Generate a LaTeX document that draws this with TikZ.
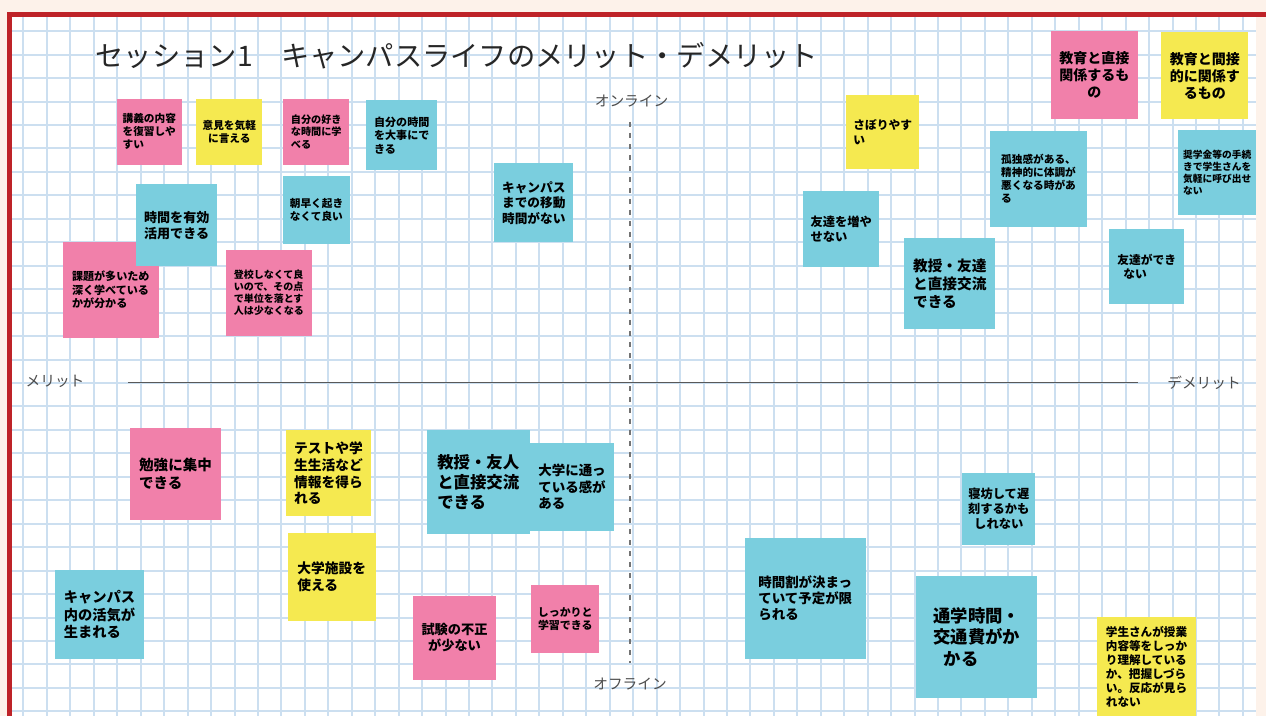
\documentclass[tikz,border=0pt]{standalone}
\usepackage{fontspec}
\newfontfamily\jp{Noto Sans CJK JP}
\definecolor{notepink}{HTML}{F180AA}
\definecolor{noteyellow}{HTML}{F5E950}
\definecolor{notecyan}{HTML}{7ACEDE}
\definecolor{gridblue}{HTML}{CCDFF0}
\definecolor{boardred}{HTML}{BE2328}
\definecolor{paper}{HTML}{FDF2EA}

\begin{document}
\begin{tikzpicture}[x=0.75pt,y=0.75pt,yscale=-1,xscale=1,
  sticky/.style={anchor=north west, inner sep=0pt, align=left, text=black},
  pinknote/.style={sticky, fill=notepink},
  yellownote/.style={sticky, fill=noteyellow},
  cyannote/.style={sticky, fill=notecyan},
  wh/.style 2 args={minimum width=#1*0.75pt, minimum height=#2*0.75pt},
  fs/.style={font=\jp\bfseries\fontsize{#1}{#1}\linespread{1.22}\selectfont},
  axislabel/.style={text=black!70, font=\jp\fontsize{11}{13}\selectfont}]
  \useasboundingbox (0,0) rectangle (1266,716);
  \fill[paper] (0,0) rectangle (1266,716);
  \fill[white] (12,17) rectangle (1256,716);
  \foreach \i in {1,...,53}
    \draw[gridblue, line width=1.5pt] (\i*23.45,17) -- (\i*23.45,716);
  \foreach \j in {-14,...,15}
    \draw[gridblue, line width=1.5pt] (12,383-\j*23.45) -- (1256,383-\j*23.45);
  \fill[boardred] (7,12) rectangle (1266,17);
  \fill[boardred] (7,12) rectangle (12,716);

  % axes
  \coordinate (meritend) at (128,382.5);
  \coordinate (demeritend) at (1138,382.5);
  \coordinate (onlineend) at (630,122);
  \coordinate (offlineend) at (630,663);
  \draw[black!65, line width=1.1pt] (meritend) -- (demeritend);
  \draw[black!55, line width=0.8pt, dash pattern=on 3.75pt off 4.5pt] (onlineend) -- (offlineend);
  \node[axislabel] (merit) at (55,381) {メリット};
  \node[axislabel] (demerit) at (1204,383) {デメリット};
  \node[axislabel] (online) at (631.5,101) {オンライン};
  \node[axislabel] (offline) at (630,684.5) {オフライン};

  \node[anchor=west, text=black!85, font=\jp\fontsize{21.2}{26}\selectfont] (title) at (91,56) {セッション1　キャンパスライフのメリット・デメリット};

  % online / merit
  \node[pinknote, wh={65}{66}, fs=8] (revise) at (116.5,98.5) {講義の内容\\を復習しや\\すい};
  \node[yellownote, wh={66}{66}, fs=8, align=center] (speakup) at (196,98.5) {意見を気軽\\に言える};
  \node[pinknote, wh={66}{66}, fs=7.6] (anytime) at (283,98.5) {自分の好き\\な時間に学\\べる};
  \node[cyannote, wh={71}{70}, fs=8.3] (owntime) at (366,100) {自分の時間\\を大事にで\\きる};
  \node[pinknote, wh={96}{96}, fs=8.3] (depth) at (62.5,241.5) {課題が多いため\\深く学べている\\かが分かる};
  \node[cyannote, wh={81}{82}, fs=9.8] (usetime) at (136,184) {時間を有効\\活用できる};
  \node[cyannote, wh={67.5}{67.5}, fs=8] (sleepin) at (282.5,176) {朝早く起き\\なくて良い};
  \node[pinknote, wh={86}{86}, fs=7.5] (credits) at (225.5,249.5) {登校しなくて良\\いので、その点\\で単位を落とす\\人は少なくなる};
  \node[cyannote, wh={79}{79}, fs=9.5] (nocommute) at (494,163) {キャンパス\\までの移動\\時間がない};

  % online / demerit
  \node[yellownote, wh={73}{74}, fs=8.8] (slacking) at (846,95) {さぼりやす\\い};
  \node[cyannote, wh={76}{76}, fs=9.2] (fewfriends) at (803,190.5) {友達を増や\\せない};
  \node[cyannote, wh={91}{90.5}, fs=11] (meetonline) at (904,238) {教授・友達\\と直接交流\\できる};
  \node[cyannote, wh={96.5}{96}, fs=8] (lonely) at (990,130.5) {孤独感がある、\\精神的に体調が\\悪くなる時があ\\る};
  \node[pinknote, wh={87}{87.5}, fs=10.5, align=center] (direct) at (1050.5,31) {教育と直接\\関係するも\\の};
  \node[yellownote, wh={87}{87}, fs=10.5, align=center] (indirect) at (1161,32) {教育と間接\\的に関係す\\るもの};
  \node[cyannote, wh={78}{84.5}, fs=7.3] (scholarship) at (1178,130) {奨学金等の手続\\きで学生さんを\\気軽に呼び出せ\\ない};
  \node[cyannote, wh={75}{74.5}, fs=8.8] (nofriends) at (1109,229) {友達ができ\\\hspace{0.5em}ない};

  % offline / merit
  \node[pinknote, wh={91.5}{92}, fs=10.9] (focus) at (129.5,427.5) {勉強に集中\\できる};
  \node[yellownote, wh={85.5}{86}, fs=10.3] (campusinfo) at (285.5,430) {テストや学\\生生活など\\情報を得ら\\れる};
  \node[yellownote, wh={88}{88.5}, fs=10.3] (facilities) at (287.5,532.5) {大学施設を\\使える};
  \node[cyannote, wh={89.5}{89.5}, fs=10.7] (liveliness) at (54.5,569.5) {キャンパス\\内の活気が\\生まれる};
  \node[cyannote, wh={84.5}{88.5}, fs=10.1] (attending) at (529.5,442.5) {大学に通っ\\ている感が\\ある};
  \node[cyannote, wh={103}{103.5}, fs=12.3] (meetcampus) at (426.5,430) {教授・友人\\と直接交流\\できる};
  \node[pinknote, wh={83.5}{84}, fs=9.9, align=center] (fairexams) at (412.5,595.5) {試験の不正\\が少ない};
  \node[pinknote, wh={68}{68}, fs=8.2, align=center] (studywell) at (531,584.5) {しっかりと\\学習できる};

  % offline / demerit
  \node[cyannote, wh={121}{121}, fs=10.1] (timetable) at (744.5,537.5) {時間割が決まっ\\ていて予定が限\\られる};
  \node[cyannote, wh={121}{121.5}, fs=13] (travelcost) at (916,576) {通学時間・\\交通費がか\\\hspace{0.6em}かる};
  \node[cyannote, wh={73}{72.5}, fs=9.2, align=center] (oversleep) at (962,472.5) {寝坊して遅\\刻するかも\\しれない};
  \node[yellownote, wh={98.5}{99}, fs=8.7] (feedback) at (1097,617) {学生さんが授業\\内容等をしっか\\り理解している\\か、把握しづら\\い。反応が見ら\\れない};
\end{tikzpicture}
\end{document}
